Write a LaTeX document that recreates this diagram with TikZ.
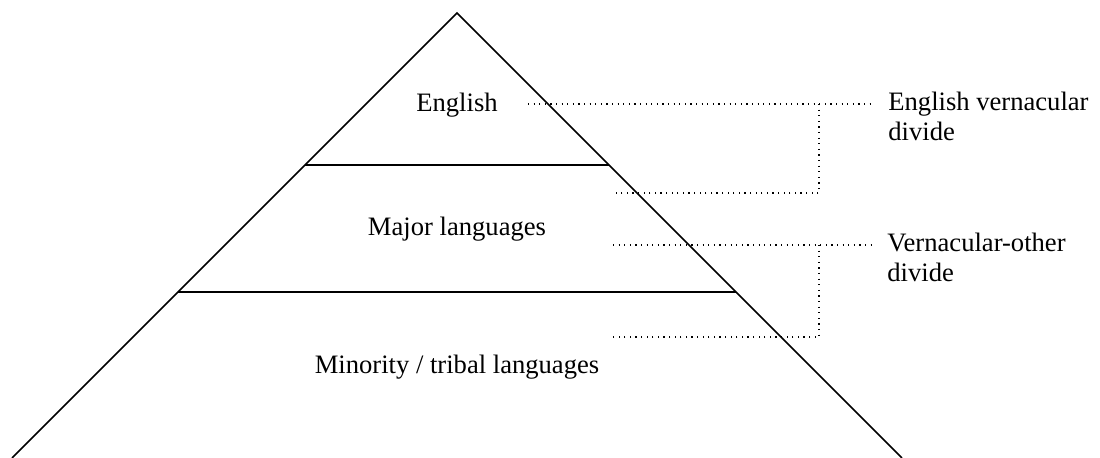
\documentclass[tikz,border=0pt]{standalone}
\usepackage{fontspec}
\setmainfont{Liberation Serif}
\usetikzlibrary{positioning}
\begin{document}
\begin{tikzpicture}[
        x=0.5pt, y=-0.5pt,
        edge/.style={line width=0.75pt},
        leader/.style={line width=0.6pt, dash pattern=on 0.6pt off 2.2pt},
        tier/.style={font=\fontsize{13.3}{15}\selectfont, inner sep=0pt},
        note/.style={font=\fontsize{13.3}{15}\selectfont, inner sep=0pt, align=left}
    ]
    \useasboundingbox (0,0) rectangle (1100,458);

    % Pyramid
    \coordinate (apex) at (457,13);
    \coordinate (baseL) at (12,458);
    \coordinate (baseR) at (902,458);
    \begin{scope}
    \clip (0,0) rectangle (1100,458);
    \draw[edge] (baseL) -- (apex) -- (baseR);
    \end{scope}
    \coordinate (t1L) at (305,165);
    \coordinate (t1R) at (609,165);
    \coordinate (t2L) at (178,292);
    \coordinate (t2R) at (736,292);
    \draw[edge] (t1L) -- (t1R);
    \draw[edge] (t2L) -- (t2R);

    % Tier labels
    \node[tier, anchor=base] (eng) at (457,112) {English};
    \node[tier, anchor=base] (major) at (457,236) {Major languages};
    \node[tier, anchor=base] (minor) at (457,374) {Minority / tribal languages};

    % Divide notes
    \node[note, anchor=base west] (engdiv) at (888,141) {English vernacular\\divide};
    \node[note, anchor=base west] (verdiv) at (887,282) {Vernacular-other\\divide};

    % Brackets
    \coordinate (b1top) at (528,104);
    \coordinate (b1end) at (874,104);
    \coordinate (b1corner) at (819,104);
    \coordinate (b1low) at (819,193);
    \coordinate (b1foot) at (613,193);
    \draw[leader] (b1top) -- (b1end);
    \draw[leader] (b1corner) -- (b1low) -- (b1foot);

    \coordinate (b2top) at (613,245);
    \coordinate (b2end) at (874,245);
    \coordinate (b2corner) at (819,245);
    \coordinate (b2low) at (819,337);
    \coordinate (b2foot) at (613,337);
    \draw[leader] (b2top) -- (b2end);
    \draw[leader] (b2corner) -- (b2low) -- (b2foot);

\end{tikzpicture}
\end{document}
